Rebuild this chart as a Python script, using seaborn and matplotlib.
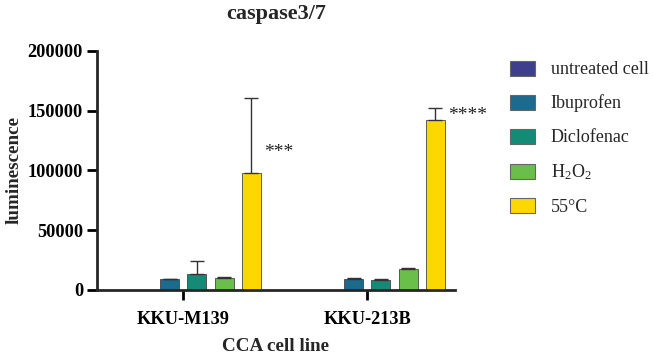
import matplotlib
matplotlib.use("Agg")
import matplotlib.pyplot as plt
import seaborn as sns
import pandas as pd
import numpy as np

# values
cell_lines = ["KKU-M139", "KKU-213B"]
treatments = ["untreated cell", "Ibuprofen", "Diclofenac", "H2O2", "55°C"]
legend_labels = ["untreated cell", "Ibuprofen", "Diclofenac",
                 r"H$_\mathregular{2}$O$_\mathregular{2}$", "55°C"]
mean_m139 = [0, 9000, 13000, 10000, 98000]
sd_m139 = [0, 500, 11000, 500, 63000]
mean_213b = [0, 9300, 8600, 17800, 142000]
sd_213b = [0, 400, 400, 500, 10500]
stars = {"KKU-M139": "***", "KKU-213B": "****"}
colors = ["#3d3f8c", "#1d6a8f", "#158a77", "#6abf4b", "#fcd800"]

df = pd.DataFrame({
    "cell": np.repeat(cell_lines, len(treatments)),
    "treatment": treatments * len(cell_lines),
    "lum": mean_m139 + mean_213b,
    "sd": sd_m139 + sd_213b,
})

sns.set_style("ticks")
plt.rcParams["font.family"] = ["Liberation Serif", "DejaVu Serif"]
plt.rcParams["mathtext.fontset"] = "stix"

fig = plt.figure(figsize=(6.53, 3.56), dpi=100)
ax = fig.add_axes([0.1485, 0.1854, 0.5482, 0.6714])

sns.barplot(data=df, x="cell", y="lum", hue="treatment", order=cell_lines,
            hue_order=treatments, palette=colors, saturation=1, width=0.74,
            gap=0.3, errorbar=None, edgecolor="#444444", linewidth=0.6,
            ax=ax, legend=False)
bar_conts = list(ax.containers)

# one-sided error bars from the drawn bars
for cont, t in zip(bar_conts, treatments):
    sub = df[df.treatment == t].set_index("cell").loc[cell_lines]
    xs = [p.get_x() + p.get_width() / 2 for p in cont.patches]
    hs = [p.get_height() for p in cont.patches]
    errs = sub["sd"].values
    keep = [i for i in range(len(xs)) if errs[i] > 0]
    ax.errorbar([xs[i] for i in keep], [hs[i] for i in keep],
                yerr=[np.zeros(len(keep)), errs[keep]], fmt="none",
                ecolor="#333333", elinewidth=1, capsize=5, capthick=1)

# significance stars next to the 55°C bars
for p, cell in zip(bar_conts[-1].patches, cell_lines):
    sd = df[(df.cell == cell) & (df.treatment == "55°C")]["sd"].values[0]
    y = p.get_height() + (sd * 0.3 if sd > 20000 else sd * 0.5)
    ax.text(p.get_x() + p.get_width() + 0.015, y - 1500, stars[cell],
            fontsize=14, color="#222222", va="center", ha="left")

ax.set_ylim(0, 200000)
ax.set_yticks([0, 50000, 100000, 150000, 200000])
ax.set_xlim(-0.543, 1.402)
ax.set_xticks([-0.074, 0.926])
ax.set_xticklabels(cell_lines)
for lab in ax.get_xticklabels() + ax.get_yticklabels():
    lab.set_fontweight("bold")
    lab.set_fontsize(13.2)
ax.set_xlabel("CCA cell line", fontsize=13.8, fontweight="bold", labelpad=7)
ax.set_ylabel("luminescence", fontsize=13.8, fontweight="bold", labelpad=4)
ax.set_title("caspase3/7", fontsize=16, fontweight="bold", pad=23)
sns.despine(ax=ax)
for s in ["left", "bottom"]:
    ax.spines[s].set_linewidth(2)
ax.tick_params(axis="both", width=2, length=7, colors="black")
ax.tick_params(axis="x", pad=8)
ax.tick_params(axis="y", pad=3)

handles = [plt.Rectangle((0, 0), 1, 1, facecolor=c, edgecolor="#666666",
                         linewidth=0.8) for c in colors]
fig.legend(handles, legend_labels, loc="upper left",
           bbox_to_anchor=(0.781, 0.830), frameon=False, fontsize=13,
           handlelength=1.4, handleheight=0.9, handletextpad=0.85,
           labelspacing=0.9, borderpad=0, borderaxespad=0)

fig.savefig("out.png", dpi=100)
